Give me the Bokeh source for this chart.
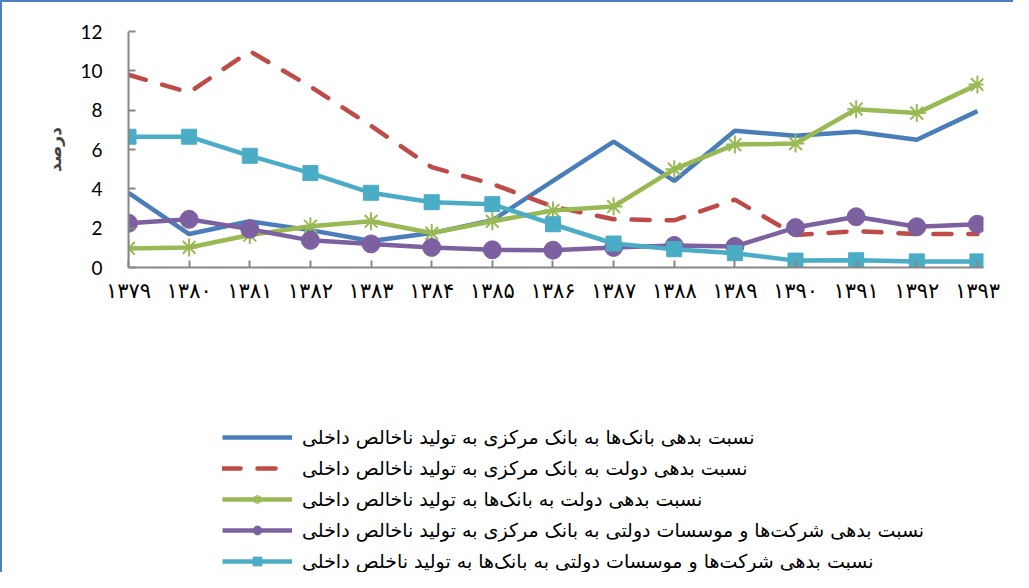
from bokeh.plotting import figure
from bokeh.layouts import column
from bokeh.models import Range1d, FixedTicker, Legend, LegendItem
from bokeh.embed import file_html
from bokeh.resources import INLINE

years = ["۱۳۷۹", "۱۳۸۰", "۱۳۸۱", "۱۳۸۲", "۱۳۸۳", "۱۳۸۴", "۱۳۸۵", "۱۳۸۶",
         "۱۳۸۷", "۱۳۸۸", "۱۳۸۹", "۱۳۹۰", "۱۳۹۱", "۱۳۹۲", "۱۳۹۳"]

banks_cb = [3.8, 1.7, 2.35, 1.9, 1.35, 1.75, 2.4, 4.4, 6.4, 4.4, 6.95, 6.7, 6.9, 6.5, 7.95]
gov_cb = [9.8, 8.9, 11.0, 9.2, 7.2, 5.1, 4.25, 3.1, 2.45, 2.4, 3.45, 1.65, 1.85, 1.7, 1.7]
gov_banks = [0.97, 1.02, 1.65, 2.1, 2.35, 1.75, 2.35, 2.9, 3.1, 5.0, 6.25, 6.3, 8.05, 7.85, 9.3]
comp_cb = [2.25, 2.45, 1.95, 1.38, 1.2, 1.02, 0.9, 0.88, 1.02, 1.12, 1.07, 2.03, 2.58, 2.07, 2.2]
comp_banks = [6.65, 6.65, 5.68, 4.8, 3.8, 3.32, 3.22, 2.2, 1.22, 0.93, 0.73, 0.35, 0.37, 0.31, 0.31]

labels = [
    "نسبت بدهی بانک‌ها به بانک مرکزی به تولید ناخالص داخلی",
    "نسبت بدهی دولت به بانک مرکزی به تولید ناخالص داخلی",
    "نسبت بدهی دولت به بانک‌ها به تولید ناخالص داخلی",
    "نسبت بدهی شرکت‌ها و موسسات دولتی به بانک مرکزی به تولید ناخالص داخلی",
    "نسبت بدهی شرکت‌ها و موسسات دولتی به بانک‌ها به تولید ناخلص داخلی",
]
y_label = "درصد"
y_ticks = [0, 2, 4, 6, 8, 10, 12]

colors = ["#4A7EBB", "#BE4B48", "#98B954", "#7D60A0", "#4BACC6"]
series = [banks_cb, gov_cb, gov_banks, comp_cb, comp_banks]
x = list(range(len(years)))

p = figure(width=1011, height=315, output_backend="svg", toolbar_location=None,
           x_range=Range1d(0, 14.1), y_range=Range1d(0, 12),
           min_border_left=126, min_border_top=29, min_border_right=30,
           min_border_bottom=50)
p.outline_line_color = None
p.xgrid.visible = False
p.ygrid.visible = False

axis_color = "#878787"
for ax in (p.xaxis[0], p.yaxis[0]):
    ax.axis_line_color = axis_color
    ax.axis_line_width = 2
    ax.major_tick_line_color = axis_color
    ax.major_tick_line_width = 2
    ax.major_tick_in = 7
    ax.major_tick_out = 0
    ax.minor_tick_line_color = None
    ax.major_label_text_color = "black"

p.xaxis.ticker = FixedTicker(ticks=x)
p.xaxis.major_label_overrides = {i: years[i] for i in x}
p.xaxis.major_label_text_font = "DejaVu Sans"
p.xaxis.major_label_text_font_size = "21px"
p.xaxis.major_label_standoff = 11

p.yaxis.ticker = FixedTicker(ticks=y_ticks)
p.yaxis.major_label_text_font = "Lato"
p.yaxis.major_label_text_font_size = "19px"
p.yaxis.major_label_standoff = 26
p.yaxis.axis_label = y_label
p.yaxis.axis_label_text_font = "DejaVu Sans"
p.yaxis.axis_label_text_font_style = "bold"
p.yaxis.axis_label_text_font_size = "17px"
p.yaxis.axis_label_standoff = 12

lw = 4.5
dash = "18 17"


def draw(fig):
    r1 = fig.line(x, series[0], line_color=colors[0], line_width=lw)
    r2 = fig.line(x, series[1], line_color=colors[1], line_width=lw, line_dash=dash, line_cap="round")
    r3 = fig.line(x, series[2], line_color=colors[2], line_width=lw)
    m3 = fig.scatter(x, series[2], marker="asterisk", size=18, line_color=colors[2], line_width=2)
    r4 = fig.line(x, series[3], line_color=colors[3], line_width=lw)
    m4 = fig.scatter(x, series[3], marker="circle", size=18, fill_color=colors[3], line_color=colors[3])
    r5 = fig.line(x, series[4], line_color=colors[4], line_width=lw)
    m5 = fig.scatter(x, series[4], marker="square", size=15, fill_color=colors[4], line_color=colors[4])
    return [[r1], [r2], [r3, m3], [r4, m4], [r5, m5]]


draw(p)

# legend panel below the chart: same series, drawn outside its visible range
p2 = figure(width=1011, height=255, output_backend="svg", toolbar_location=None,
            x_range=Range1d(100, 101), y_range=Range1d(100, 101),
            x_axis_location=None, y_axis_location=None,
            min_border=0, min_border_left=0, min_border_right=0,
            min_border_top=0, min_border_bottom=0)
p2.xgrid.visible = False
p2.ygrid.visible = False
p2.outline_line_color = None
groups = draw(p2)

items = [LegendItem(label=labels[i], renderers=groups[i]) for i in range(5)]
legend = Legend(items=items, location=(94, 0), orientation="vertical",
                glyph_width=70, glyph_height=22, label_height=22, spacing=9,
                label_standoff=10, padding=0, margin=0,
                border_line_color=None, background_fill_alpha=0,
                label_text_font="DejaVu Sans", label_text_font_size="19px",
                label_text_color="black")
p2.add_layout(legend, "center")

layout = column(p, p2, spacing=0,
                styles={"border-left": "2px solid #4f7fbf", "border-top": "2px solid #4f7fbf"})

open("out.html", "w").write(file_html(layout, INLINE))
